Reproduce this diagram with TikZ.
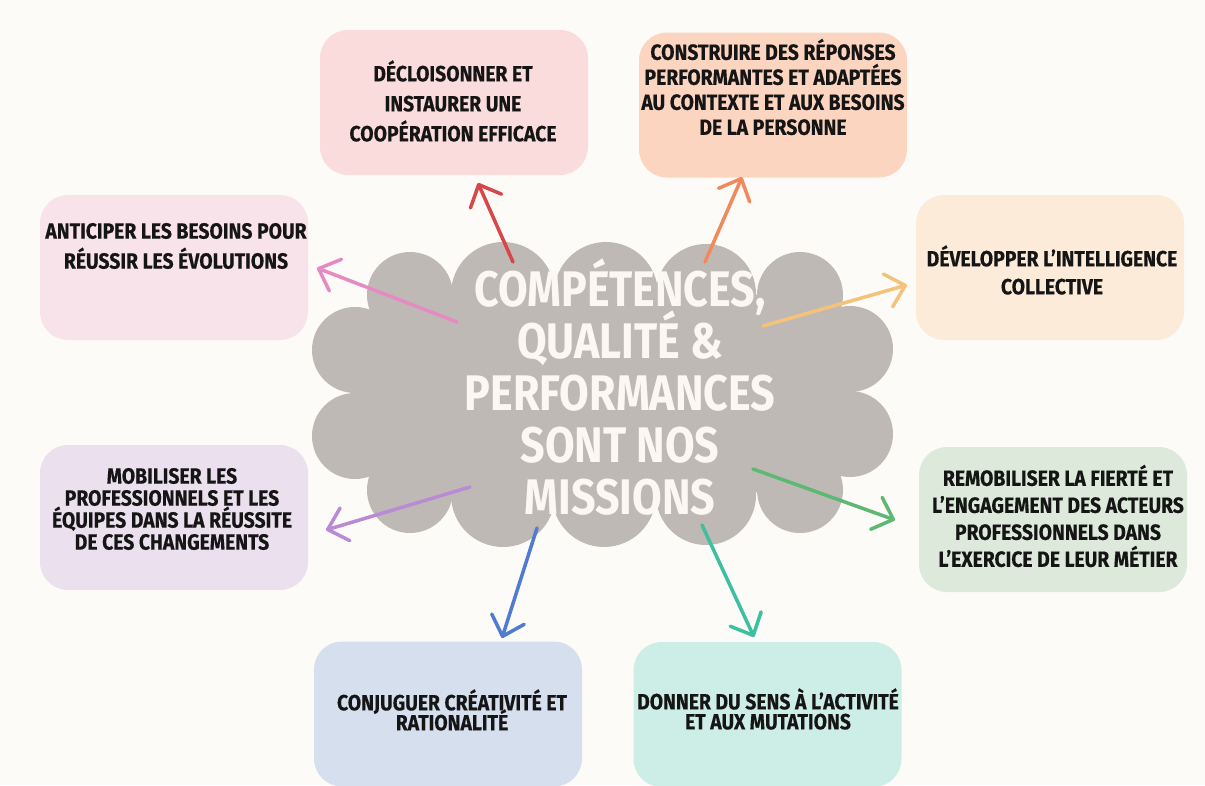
\documentclass[tikz,border=0pt]{standalone}
\usepackage{fontspec}
\newfontfamily\hfont{Fira Sans}[FakeStretch=0.88,FakeBold=0.4]
\newfontfamily\tfont{Fira Sans}[FakeStretch=0.86]
\usetikzlibrary{arrows.meta}
\definecolor{bg}{HTML}{FDFBF8}
\definecolor{cloudc}{HTML}{BFB9B5}
\definecolor{titlec}{HTML}{FBF8F3}
\definecolor{inkc}{HTML}{151515}
\definecolor{cA}{HTML}{FBDCDD}
\definecolor{cB}{HTML}{FCD5C0}
\definecolor{cC}{HTML}{F8E3EA}
\definecolor{cD}{HTML}{FCEBD9}
\definecolor{cE}{HTML}{EBE0EE}
\definecolor{cF}{HTML}{DDE9DA}
\definecolor{cG}{HTML}{D5DFEE}
\definecolor{cH}{HTML}{CDEEE6}
\definecolor{aA}{HTML}{D64848}
\definecolor{aB}{HTML}{F08A5D}
\definecolor{aC}{HTML}{E58BC4}
\definecolor{aD}{HTML}{F5C27A}
\definecolor{aE}{HTML}{B98BD6}
\definecolor{aF}{HTML}{5DB873}
\definecolor{aG}{HTML}{4F7BD0}
\definecolor{aH}{HTML}{3DBFA0}
\tikzset{
  box/.style={rectangle, rounded corners=28pt, minimum width=268pt, minimum height=145pt, inner sep=0pt, draw=none},
  lbl/.style={align=center, text=inkc, inner sep=0pt},
  title/.style={align=center, text=titlec, inner sep=0pt, font=\tfont\bfseries\fontsize{50}{52}\selectfont},
  arr/.style={line width=3.5pt, line cap=round, -{Straight Barb[length=18pt,width=34pt,line cap=round,line join=round]}},
}
\newcommand{\lblfont}[1]{\hfont\bfseries\fontsize{22}{#1}\selectfont}
\begin{document}
\lineskiplimit=-100pt
\begin{tikzpicture}[x=1pt,y=-1pt]
\fill[bg] (0,0) rectangle (1205,785);
\useasboundingbox (0,0) rectangle (1205,785);

% cloud
\begin{scope}[fill=cloudc]
\fill (410,295) -- (503,294) -- (606,294) -- (706,294) -- (800,295) -- (850,349) -- (850,434) -- (800,490) -- (706,495) -- (604,495) -- (503,495) -- (410,490) -- (355,436) -- (355,350) -- cycle;
\fill (410,295) circle[radius=43pt];
\fill (503,294) circle[radius=52pt];
\fill (606,294) circle[radius=52pt];
\fill (706,294) circle[radius=50pt];
\fill (800,295) circle[radius=43pt];
\fill (355,350) circle[radius=43pt];
\fill (355,436) circle[radius=43pt];
\fill (850,349) circle[radius=43pt];
\fill (850,434) circle[radius=43pt];
\fill (410,490) circle[radius=43pt];
\fill (503,495) circle[radius=52pt];
\fill (604,495) circle[radius=52pt];
\fill (706,495) circle[radius=50pt];
\fill (800,490) circle[radius=43pt];
\end{scope}

\node[title] (core) at (620,387) {COMPÉTENCES,\\QUALITÉ \&\\PERFORMANCES\\SONT NOS\\MISSIONS};

% boxes
\node[box, fill=cA] (b1) at (454,102.5) {};
\node[box, fill=cB] (b2) at (773,105) {};
\node[box, fill=cC] (b3) at (174,267.5) {};
\node[box, fill=cD] (b4) at (1050,267.5) {};
\node[box, fill=cE] (b5) at (174,517.5) {};
\node[box, fill=cF] (b6) at (1053,519.5) {};
\node[box, fill=cG] (b7) at (448,714) {};
\node[box, fill=cH] (b8) at (767.5,714.5) {};

% labels
\node[lbl, font=\lblfont{30}] (t1) at (453,101) {DÉCLOISONNER ET\\INSTAURER UNE\\COOPÉRATION EFFICACE};
\node[lbl, font=\lblfont{25}] (t2) at (773,87) {CONSTRUIRE DES RÉPONSES\\PERFORMANTES ET ADAPTÉES\\AU CONTEXTE ET AUX BESOINS\\DE LA PERSONNE};
\node[lbl, font=\lblfont{30}] (t3) at (176,246) {ANTICIPER LES BESOINS POUR\\RÉUSSIR LES ÉVOLUTIONS};
\node[lbl, font=\lblfont{28}] (t4) at (1052,270) {DÉVELOPPER L’INTELLIGENCE\\COLLECTIVE};
\node[lbl, font=\lblfont{22}] (t5) at (172,509) {MOBILISER LES\\PROFESSIONNELS ET LES\\ÉQUIPES DANS LA RÉUSSITE\\DE CES CHANGEMENTS};
\node[lbl, font=\lblfont{27}] (t6) at (1058,516) {REMOBILISER LA FIERTÉ ET\\L’ENGAGEMENT DES ACTEURS\\PROFESSIONNELS DANS\\L’EXERCICE DE LEUR MÉTIER};
\node[lbl, font=\lblfont{20}] (t7) at (452,710) {CONJUGUER CRÉATIVITÉ ET\\RATIONALITÉ};
\node[lbl, font=\lblfont{20}] (t8) at (768,709) {DONNER DU SENS À L’ACTIVITÉ\\ET AUX MUTATIONS};

% arrow ends
\coordinate (s1) at (513,262); \coordinate (e1) at (478,183);
\coordinate (s2) at (705,262); \coordinate (e2) at (742,177);
\coordinate (s3) at (457,322); \coordinate (e3) at (317,268);
\coordinate (s4) at (763,326); \coordinate (e4) at (907,285);
\coordinate (s5) at (470,487); \coordinate (e5) at (326,530);
\coordinate (s6) at (753,469); \coordinate (e6) at (895,520);
\coordinate (s7) at (537,528); \coordinate (e7) at (502,638);
\coordinate (s8) at (702,525); \coordinate (e8) at (754,637);

\draw[arr, aA] (s1) -- (e1);
\draw[arr, aB] (s2) -- (e2);
\draw[arr, aC] (s3) -- (e3);
\draw[arr, aD] (s4) -- (e4);
\draw[arr, aE] (s5) -- (e5);
\draw[arr, aF] (s6) -- (e6);
\draw[arr, aG] (s7) -- (e7);
\draw[arr, aH] (s8) -- (e8);
\end{tikzpicture}
\end{document}
